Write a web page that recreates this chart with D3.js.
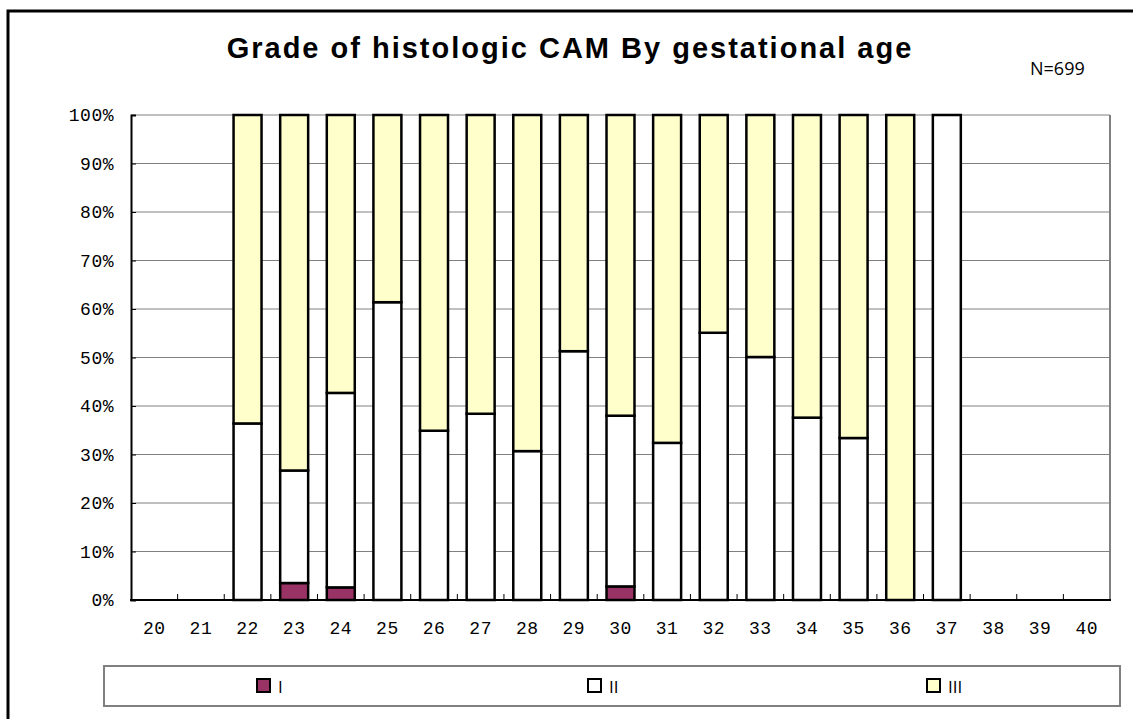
<!DOCTYPE html>
<html>
<head>
<meta charset="utf-8">
<script src="https://cdn.jsdelivr.net/npm/d3@7"></script>
<style>
  body { margin: 0; background: #fff; }
  svg { display: block; }
</style>
</head>
<body>
<script>
// gestational age (weeks)
var weeks = ["20","21","22","23","24","25","26","27","28","29","30","31","32","33","34","35","36","37","38","39","40"];
// percent of cases per grade
var gradeI   = [0, 0, 0,    3.5,  2.6,  0,    0,    0,    0,    0,    2.8,  0,    0,    0,    0,    0,    0,   0,   0, 0, 0];
var gradeII  = [0, 0, 36.4, 23.2, 40.1, 61.4, 34.9, 38.4, 30.7, 51.3, 35.2, 32.4, 55.1, 50.1, 37.6, 33.4, 0,   100, 0, 0, 0];
var gradeIII = [0, 0, 63.6, 73.3, 57.3, 38.6, 65.1, 61.6, 69.3, 48.7, 62.0, 67.6, 44.9, 49.9, 62.4, 66.6, 100, 0,   0, 0, 0];
var grades = ["I", "II", "III"];
var yTicks = [0, 10, 20, 30, 40, 50, 60, 70, 80, 90, 100];

var colors = {"I": "#993366", "II": "#ffffff", "III": "#ffffcc"};

var width = 1133, height = 719;
var plot = {left: 131, right: 1110, top: 115, bottom: 600};

var svg = d3.select("body").append("svg")
    .attr("width", width)
    .attr("height", height);

//outer frame (runs off the right and bottom edge)
svg.append("rect")
    .attr("x", 8).attr("y", 11)
    .attr("width", 1140).attr("height", 720)
    .attr("fill", "#fff")
    .attr("stroke", "#000")
    .attr("stroke-width", 3);

//title
svg.append("text")
    .attr("x", 570).attr("y", 58)
    .attr("text-anchor", "middle")
    .style("font-family", "'Liberation Sans', Arial, sans-serif")
    .style("font-weight", "bold")
    .style("font-size", "29px")
    .style("letter-spacing", "2px")
    .text("Grade of histologic CAM By gestational age");

svg.append("text")
    .attr("x", 1030).attr("y", 75)
    .style("font-family", "'Open Sans', 'DejaVu Sans', sans-serif")
    .style("font-size", "18px")
    .text("N=699");

var x = d3.scaleBand()
    .domain(weeks)
    .range([plot.left, plot.right])
    .paddingInner(0.4)
    .paddingOuter(0.2);

var y = d3.scaleLinear()
    .domain([0, 100])
    .range([plot.bottom, plot.top]);

//gridlines
svg.append("g")
    .selectAll("line")
    .data(yTicks.slice(1))
    .enter()
    .append("line")
    .attr("x1", plot.left).attr("x2", plot.right)
    .attr("y1", function(d){ return y(d); })
    .attr("y2", function(d){ return y(d); })
    .attr("stroke", "#808080")
    .attr("stroke-width", 1);

//right border of plot area
svg.append("line")
    .attr("x1", plot.right).attr("x2", plot.right)
    .attr("y1", plot.top).attr("y2", plot.bottom)
    .attr("stroke", "#808080")
    .attr("stroke-width", 2);

//stack the three grades
var rows = weeks.map(function(w, i){
    return {week: w, I: gradeI[i], II: gradeII[i], III: gradeIII[i]};
});
var stacked = d3.stack().keys(grades)(rows);

svg.append("g")
    .selectAll("g")
    .data(stacked)
    .enter()
    .append("g")
    .attr("fill", function(d){ return colors[d.key]; })
    .selectAll("rect")
    .data(function(d){ return d.filter(function(s){ return s[1] - s[0] > 0; }); })
    .enter()
    .append("rect")
    .attr("x", function(d){ return x(d.data.week); })
    .attr("width", x.bandwidth())
    .attr("y", function(d){ return y(d[1]); })
    .attr("height", function(d){ return y(d[0]) - y(d[1]); })
    .attr("stroke", "#000")
    .attr("stroke-width", 2.5);

//y axis
var yAxis = d3.axisLeft(y)
    .tickValues(yTicks)
    .tickSize(-5)
    .tickPadding(17)
    .tickFormat(function(d){ return d + "%"; });

var gy = svg.append("g")
    .attr("transform", "translate(" + plot.left + ",0)")
    .call(yAxis);
gy.select(".domain").attr("stroke", "#000").attr("stroke-width", 2);
gy.selectAll(".tick line").attr("stroke", "#000");
gy.selectAll("text")
    .style("font-family", "'Liberation Mono', 'Courier New', monospace")
    .style("font-size", "18px")
    .style("letter-spacing", "0.5px")
    .attr("fill", "#000");

//x axis: labels centred under bars, ticks at category boundaries
var xEdge = d3.scaleLinear().domain([0, weeks.length]).range([plot.left, plot.right]);

svg.append("g")
    .selectAll("line")
    .data(d3.range(1, weeks.length))
    .enter()
    .append("line")
    .attr("x1", function(d){ return xEdge(d); })
    .attr("x2", function(d){ return xEdge(d); })
    .attr("y1", plot.bottom - 6).attr("y2", plot.bottom)
    .attr("stroke", "#000");

svg.append("line")
    .attr("x1", plot.left - 1).attr("x2", plot.right + 1)
    .attr("y1", plot.bottom).attr("y2", plot.bottom)
    .attr("stroke", "#000")
    .attr("stroke-width", 2);

svg.append("g")
    .selectAll("text")
    .data(weeks)
    .enter()
    .append("text")
    .attr("x", function(d){ return x(d) + x.bandwidth() / 2; })
    .attr("y", 634)
    .attr("text-anchor", "middle")
    .style("font-family", "'Liberation Mono', 'Courier New', monospace")
    .style("font-size", "18px")
    .style("letter-spacing", "0.5px")
    .text(function(d){ return d; });

//legend
svg.append("rect")
    .attr("x", 104).attr("y", 666)
    .attr("width", 1016).attr("height", 40)
    .attr("fill", "#fff")
    .attr("stroke", "#808080")
    .attr("stroke-width", 2);

var legendX = [257, 588, 927];
var legend = svg.append("g")
    .selectAll("g")
    .data(grades)
    .enter()
    .append("g")
    .attr("transform", function(d, i){ return "translate(" + legendX[i] + ",679)"; });

legend.append("rect")
    .attr("width", 13).attr("height", 13)
    .attr("fill", function(d){ return colors[d]; })
    .attr("stroke", "#000")
    .attr("stroke-width", 2);

legend.append("text")
    .attr("x", 21).attr("y", 14)
    .style("font-family", "'Open Sans', 'DejaVu Sans', sans-serif")
    .style("font-size", "17px")
    .text(function(d){ return d; });
</script>
</body>
</html>
